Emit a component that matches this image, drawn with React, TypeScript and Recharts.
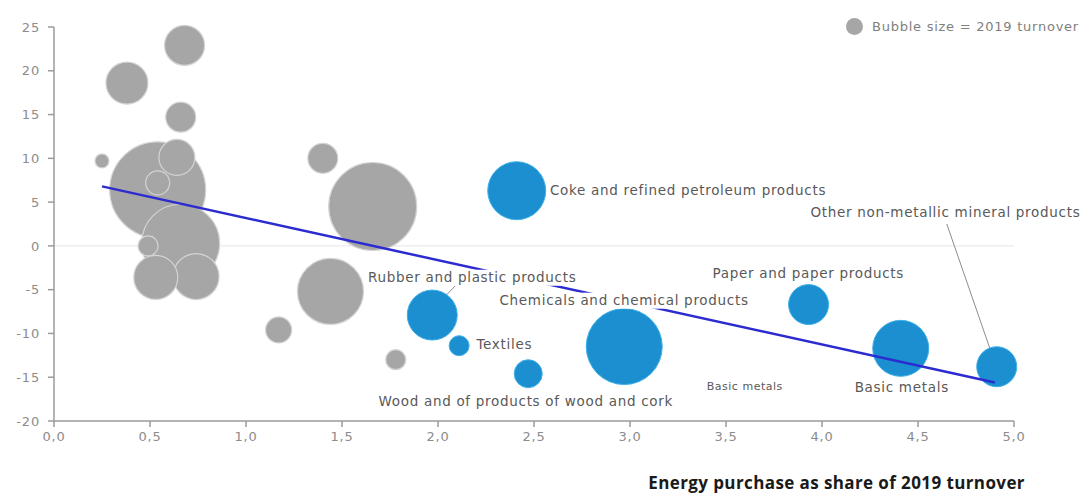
import React from "react";
import {
  ScatterChart,
  Scatter,
  XAxis,
  YAxis,
  ZAxis,
  CartesianGrid,
  ReferenceLine,
} from "recharts";

// Grey bubbles (other industries): x = energy share, y = change, turnover = bubble size
const greyX = [0.54, 0.66, 1.66, 1.44, 0.74, 0.53, 0.38, 0.68, 0.64, 0.66, 1.4, 1.17, 0.54, 0.49, 1.78, 0.25];
const greyY = [6.4, 0.3, 4.5, -5.2, -3.5, -3.6, 18.6, 22.9, 10.1, 14.7, 10.0, -9.6, 7.2, 0.0, -13.0, 9.7];
const greyTurnover = [2304, 1521, 1936, 1089, 529, 484, 441, 400, 324, 225, 225, 169, 144, 100, 100, 49];

// Highlighted (energy-intensive) industries
const blueNames = [
  "Coke and refined petroleum products",
  "Rubber and plastic products",
  "Textiles",
  "Wood and of products of wood and cork",
  "Chemicals and chemical products",
  "Paper and paper products",
  "Basic metals",
  "Other non-metallic mineral products",
];
const blueX = [2.41, 1.97, 2.11, 2.47, 2.97, 3.93, 4.41, 4.91];
const blueY = [6.3, -7.9, -11.4, -14.6, -11.5, -6.7, -11.7, -13.8];
const blueTurnover = [841, 625, 100, 196, 1444, 400, 784, 400];

// Linear trend line end points
const trendX = [0.25, 4.9];
const trendY = [6.8, -15.6];

// Annotation labels (anchor = start of text)
const labelTexts = [
  "Coke and refined petroleum products",
  "Other non-metallic mineral products",
  "Paper and paper products",
  "Rubber and plastic products",
  "Chemicals and chemical products",
  "Textiles",
  "Wood and of products of wood and cork",
  "Basic metals",
  "Basic metals",
];
const labelX = [2.583, 3.94, 3.43, 1.635, 2.32, 2.2, 1.69, 3.4, 4.17];
const labelY = [6.38, 3.87, -3.08, -3.64, -6.26, -11.28, -17.75, -16.06, -16.2];
const labelSize = [13.5, 13.5, 13.5, 13.5, 13.5, 13.5, 13.5, 11, 13.5];
const labelBackground = [false, false, false, true, true, false, false, false, false];

const xTicks = [0, 0.5, 1, 1.5, 2, 2.5, 3, 3.5, 4, 4.5, 5];
const yTicks = [-20, -15, -10, -5, 0, 5, 10, 15, 20, 25];

const greyData = greyX.map((x, i) => ({ x, y: greyY[i], z: greyTurnover[i] }));
const blueData = blueX.map((x, i) => ({ x, y: blueY[i], z: blueTurnover[i], name: blueNames[i] }));
const trendData = trendX.map((x, i) => ({ x, y: trendY[i], z: 0 }));
const labelData = labelX.map((x, i) => ({
  x,
  y: labelY[i],
  z: 0,
  text: labelTexts[i],
  size: labelSize[i],
  bg: labelBackground[i],
}));

const FONT = "'DejaVu Sans', sans-serif";

const LabelShape = (props: any) => {
  const { cx, cy, payload } = props;
  if (cx == null || cy == null) return <g />;
  const ls = payload.size > 12 ? 0.7 : 0.5;
  const w = payload.text.length * (payload.size * 0.58 + ls);
  return (
    <g>
      {payload.bg && (
        <rect x={cx - 2} y={cy - 8} width={w + 4} height={16} fill="#ffffff" />
      )}
      <text
        x={cx}
        y={cy}
        dy="0.35em"
        fontSize={payload.size}
        fontFamily={FONT}
        letterSpacing={ls}
        fill="#595959"
        textAnchor="start"
      >
        {payload.text}
      </text>
    </g>
  );
};

const fmt = (v: number) => v.toFixed(1).replace(".", ",");

const tickStyle = { fill: "#8c8c8c", fontSize: 13, fontFamily: FONT, letterSpacing: 0.8 };

export default function App() {
  return (
    <div style={{ position: "absolute", left: 0, top: 0, width: 1083, height: 493, background: "#fff" }}>
      <ScatterChart
        width={1083}
        height={493}
        margin={{ top: 27, right: 69, bottom: 42, left: 0 }}
      >
        <CartesianGrid horizontalValues={[0]} vertical={false} stroke="#e6e6e6" />
        <XAxis
          type="number"
          dataKey="x"
          domain={[0, 5]}
          ticks={xTicks}
          tickFormatter={fmt}
          height={30}
          stroke="#9a9a9a"
          strokeWidth={1.5}
          tick={tickStyle}
          tickSize={6}
          tickMargin={5}
        />
        <YAxis
          type="number"
          dataKey="y"
          domain={[-20, 25]}
          ticks={yTicks}
          width={54}
          stroke="#9a9a9a"
          strokeWidth={1.5}
          tick={tickStyle}
          tickSize={6}
          tickMargin={8}
        />
        <ZAxis type="number" dataKey="z" domain={[0, 2500]} range={[0, 2500 * Math.PI]} />
        <Scatter
          data={greyData}
          fill="#a6a6a6"
          stroke="#d4d4d4"
          strokeWidth={1.2}
          isAnimationActive={false}
        />
        <Scatter
          data={blueData}
          fill="#1b8fd0"
          stroke="#3fb0e8"
          strokeWidth={1}
          isAnimationActive={false}
        />
        <Scatter
          data={trendData}
          line={{ stroke: "#2b2bd0", strokeWidth: 2.5 }}
          shape={() => <g />}
          isAnimationActive={false}
        />
        <ReferenceLine
          segment={[{ x: 2.09, y: -4.56 }, { x: 2.02, y: -6.15 }]}
          stroke="#8c8c8c"
          strokeWidth={1}
        />
        <ReferenceLine
          segment={[{ x: 4.65, y: 2.5 }, { x: 4.88, y: -12.07 }]}
          stroke="#8c8c8c"
          strokeWidth={1}
        />
        <Scatter
          data={labelData}
          shape={LabelShape}
          isAnimationActive={false}
        />
      </ScatterChart>
      <div
        style={{
          position: "absolute",
          left: 846,
          top: 18,
          display: "flex",
          alignItems: "center",
          fontFamily: FONT,
          fontSize: 13,
          letterSpacing: 0.75,
          color: "#7f7f7f",
          whiteSpace: "nowrap",
        }}
      >
        <span
          style={{
            display: "inline-block",
            width: 17,
            height: 17,
            borderRadius: "50%",
            background: "#a6a6a6",
            marginRight: 9,
          }}
        />
        Bubble size = 2019 turnover
      </div>
      <div
        style={{
          position: "absolute",
          right: 58,
          top: 471,
          fontFamily: "'Open Sans', sans-serif",
          fontWeight: 700,
          fontSize: 17,
          letterSpacing: 0.4,
          color: "#1a1a1a",
          whiteSpace: "nowrap",
        }}
      >
        Energy purchase as share of 2019 turnover
      </div>
    </div>
  );
}
